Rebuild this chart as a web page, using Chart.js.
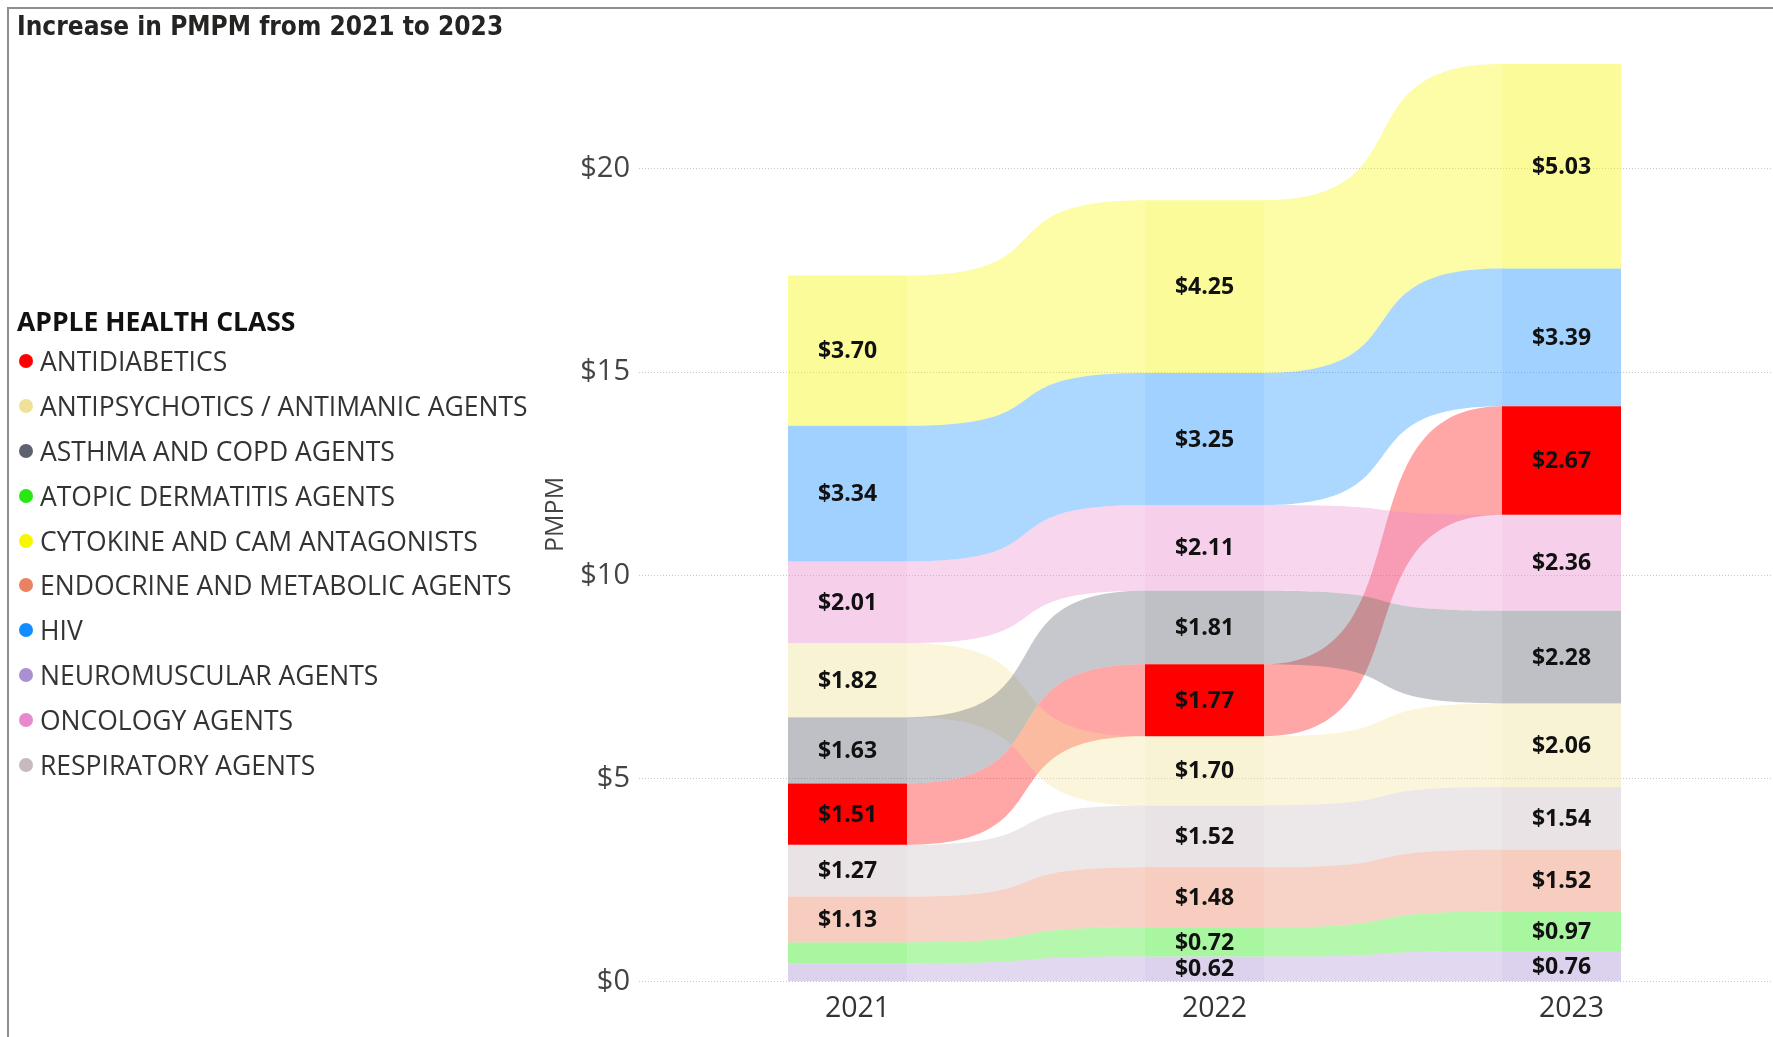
<!DOCTYPE html>
<html><head><meta charset="utf-8">
<script src="https://cdn.jsdelivr.net/npm/chart.js@4.4.1/dist/chart.umd.min.js"></script>
<style>
html,body{margin:0;padding:0;background:#fff;}
#wrap{position:relative;width:1773px;height:1037px;overflow:hidden;background:#fff;}
#chart{position:absolute;left:0;top:0;}
#frame{position:absolute;left:7px;top:7px;width:1800px;height:1100px;border-top:2px solid #8e8e8e;border-left:2px solid #8e8e8e;pointer-events:none;}
#title{position:absolute;left:17px;top:11px;font-family:'Liberation Sans Narrow','DejaVu Sans Condensed',sans-serif;font-weight:bold;font-size:26px;color:#252423;white-space:nowrap;}
#legend{position:absolute;left:17px;top:303px;font-family:'Open Sans',sans-serif;}
.lt{font-weight:bold;font-size:26.5px;color:#111;height:36px;line-height:36px;white-space:nowrap;}
.li{display:flex;align-items:center;height:44.8px;font-size:26.5px;color:#333;white-space:nowrap;}
.dot{width:14px;height:14px;border-radius:50%;margin-left:2px;margin-right:7px;flex:none;}
</style></head>
<body>
<div id="wrap">
  <canvas id="chart" width="1773" height="1037"></canvas>
  <div id="frame"></div>
  <div id="title">Increase in PMPM from 2021 to 2023</div>
  <div id="legend"></div>
</div>
<script>
// ---- data ----
const years = ['2021', '2022', '2023'];
const legendTitle = 'APPLE HEALTH CLASS';
const classNames = [
  'ANTIDIABETICS',
  'ANTIPSYCHOTICS / ANTIMANIC AGENTS',
  'ASTHMA AND COPD AGENTS',
  'ATOPIC DERMATITIS AGENTS',
  'CYTOKINE AND CAM ANTAGONISTS',
  'ENDOCRINE AND METABOLIC AGENTS',
  'HIV',
  'NEUROMUSCULAR AGENTS',
  'ONCOLOGY AGENTS',
  'RESPIRATORY AGENTS'
];
const antidiabetics      = [1.51, 1.77, 2.67];
const antipsychotics     = [1.82, 1.70, 2.06];
const asthmaCopd         = [1.63, 1.81, 2.28];
const atopicDermatitis   = [0.52, 0.72, 0.97];
const cytokineCam        = [3.70, 4.25, 5.03];
const endocrineMetabolic = [1.13, 1.48, 1.52];
const hiv                = [3.34, 3.25, 3.39];
const neuromuscular      = [0.45, 0.62, 0.76];
const oncology           = [2.01, 2.11, 2.36];
const respiratory        = [1.27, 1.52, 1.54];
const yTickValues = [0, 5, 10, 15, 20];

// ---- styles ----
const seriesValues = [antidiabetics, antipsychotics, asthmaCopd, atopicDermatitis, cytokineCam,
  endocrineMetabolic, hiv, neuromuscular, oncology, respiratory];
const baseColors = [
  [255, 0, 0], [240, 225, 153], [94, 97, 111], [40, 232, 20], [245, 248, 0],
  [232, 130, 95], [17, 141, 255], [171, 143, 211], [232, 137, 205], [200, 185, 190]
];
const highlighted = 'ANTIDIABETICS';
const rgba = (c, a) => `rgba(${c[0]},${c[1]},${c[2]},${a})`;

// legend (HTML)
const lg = document.getElementById('legend');
const lt = document.createElement('div'); lt.className = 'lt'; lt.textContent = legendTitle; lg.appendChild(lt);
classNames.forEach((n, i) => {
  const d = document.createElement('div'); d.className = 'li';
  const dot = document.createElement('span'); dot.className = 'dot'; dot.style.background = rgba(baseColors[i], 1);
  d.appendChild(dot); d.appendChild(document.createTextNode(n)); lg.appendChild(d);
});

// ribbon stacking: per year, smallest at bottom
const ranges = classNames.map(() => []);
years.forEach((y, yi) => {
  const order = classNames.map((_, si) => si).sort((a, b) => seriesValues[a][yi] - seriesValues[b][yi]);
  let acc = 0;
  order.forEach(si => { const v = seriesValues[si][yi]; ranges[si][yi] = [acc, acc + v]; acc += v; });
});

const datasets = classNames.map((n, si) => ({
  label: n,
  data: years.map((_, yi) => ({ x: yi, y: ranges[si][yi] })),
  values: seriesValues[si],
  backgroundColor: rgba(baseColors[si], n === highlighted ? 1 : 0.4),
  ribbonColor: rgba(baseColors[si], 0.35),
  borderWidth: 0,
  grouped: false,
  categoryPercentage: 1,
  barPercentage: 1 / 3
}));

const ribbonPlugin = {
  id: 'ribbons',
  beforeDatasetsDraw(chart) {
    const ctx = chart.ctx;
    ctx.save();
    chart.data.datasets.forEach((ds, di) => {
      const meta = chart.getDatasetMeta(di);
      for (let i = 0; i < meta.data.length - 1; i++) {
        const a = meta.data[i], b = meta.data[i + 1];
        const x0 = a.x + a.width / 2, x1 = b.x - b.width / 2;
        const at = Math.min(a.y, a.base), ab = Math.max(a.y, a.base);
        const bt = Math.min(b.y, b.base), bb = Math.max(b.y, b.base);
        const k = 0.7 * (x1 - x0);
        ctx.beginPath();
        ctx.moveTo(x0, at);
        ctx.bezierCurveTo(x0 + k, at, x1 - k, bt, x1, bt);
        ctx.lineTo(x1, bb);
        ctx.bezierCurveTo(x1 - k, bb, x0 + k, ab, x0, ab);
        ctx.closePath();
        ctx.fillStyle = ds.ribbonColor;
        ctx.fill();
      }
    });
    ctx.restore();
  }
};

const labelPlugin = {
  id: 'barLabels',
  afterDatasetsDraw(chart) {
    const ctx = chart.ctx;
    ctx.save();
    ctx.font = "bold 23px 'Open Sans'";
    ctx.fillStyle = '#111';
    ctx.textAlign = 'center';
    ctx.textBaseline = 'middle';
    chart.data.datasets.forEach((ds, di) => {
      const meta = chart.getDatasetMeta(di);
      meta.data.forEach((el, i) => {
        const v = ds.values[i];
        if (v < 0.6) return;
        ctx.fillText('$' + v.toFixed(2), el.x, (el.y + el.base) / 2 + 1);
      });
    });
    ctx.restore();
  }
};

Chart.defaults.font.family = "'Open Sans', sans-serif";
new Chart(document.getElementById('chart'), {
  type: 'bar',
  data: { datasets },
  plugins: [ribbonPlugin, labelPlugin],
  options: {
    responsive: false,
    animation: false,
    layout: { padding: { left: 530, right: 0, top: 47, bottom: 9 } },
    plugins: { legend: { display: false }, tooltip: { enabled: false } },
    scales: {
      x: {
        type: 'linear', min: -0.584, max: 2.5924, offset: false,
        grid: { display: false }, border: { display: false },
        afterBuildTicks(s) { s.ticks = years.map((_, i) => ({ value: i })); },
        ticks: { autoSkip: false, maxRotation: 0, padding: 2, labelOffset: 10, color: '#333',
          font: { size: 28.5 }, callback: v => years[v] }
      },
      y: {
        min: 0, max: 23,
        afterBuildTicks(s) { s.ticks = yTickValues.map(v => ({ value: v })); },
        ticks: { padding: 9, color: '#444', font: { size: 29 }, callback: v => '$' + v },
        grid: { color: '#c8c8c8', drawTicks: false, lineWidth: 1 },
        border: { display: false, dash: [1, 2] },
        title: { display: true, text: 'PMPM', color: '#444', font: { size: 25 }, padding: { top: 11, bottom: 0 } },
        afterFit(s) { s.width = 109; }
      }
    }
  }
});
</script>
</body></html>
